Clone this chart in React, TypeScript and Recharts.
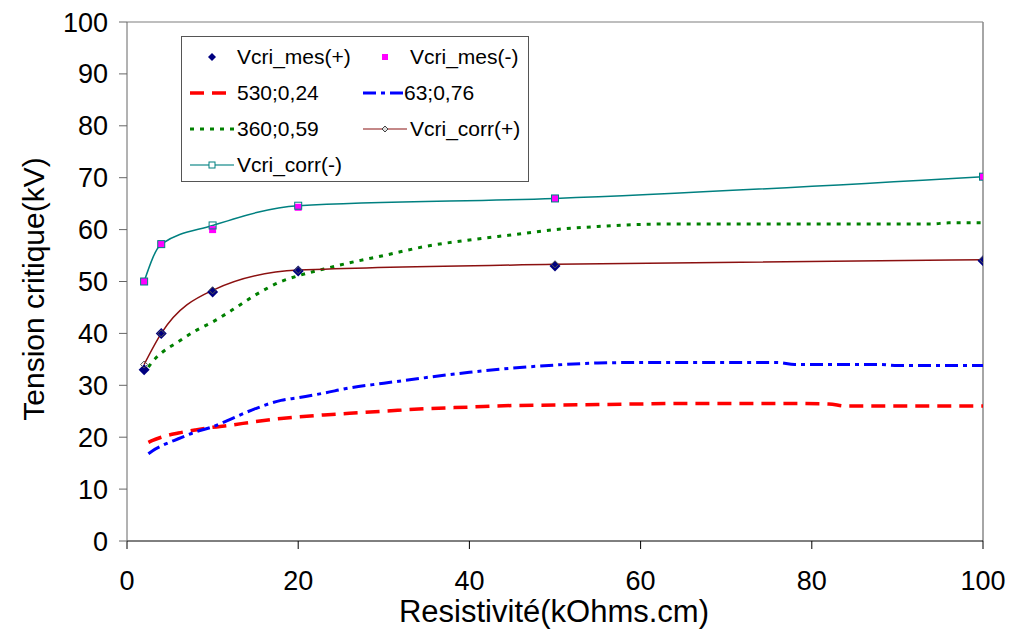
import {
  ComposedChart,
  Line,
  Scatter,
  XAxis,
  YAxis,
  Legend,
  ReferenceLine,
} from "recharts";

// measured resistivity points (kOhms.cm)
const xMes = [2, 4, 10, 20, 50, 100];
const mesPlus = [33, 40, 48, 52, 53, 54];
const mesMinus = [50, 57.2, 60, 64.3, 66, 70.2];
const corrPlus = [34, 40, 48.3, 52.2, 53.3, 54.2];
const corrMinus = [50, 57.2, 60.8, 64.6, 66, 70.2];

// model curves
const xModel = [2.5, 3, 4, 6, 8, 10, 12, 15, 18, 20, 23, 26, 30, 35, 40, 45, 50, 55, 60, 65, 70, 76, 78, 82, 84, 88, 90, 94, 96, 100];
const model530 = [19.0, 19.4, 20.0, 20.8, 21.4, 21.9, 22.3, 23.0, 23.6, 23.9, 24.3, 24.6, 25.0, 25.5, 25.8, 26.1, 26.2, 26.3, 26.4, 26.5, 26.5, 26.5, 26.5, 26.4, 26.0, 26.0, 26.0, 26.0, 26.0, 26.0];
const model63 = [16.8, 17.4, 18.3, 19.7, 21.0, 22.0, 23.4, 25.5, 27.1, 27.6, 28.5, 29.5, 30.4, 31.5, 32.5, 33.3, 33.9, 34.3, 34.4, 34.4, 34.4, 34.4, 34.0, 34.0, 34.0, 34.0, 33.8, 33.8, 33.8, 33.8];
const model360 = [33.5, 34.6, 36.2, 38.4, 40.5, 42.2, 44.2, 47.4, 50.0, 51.1, 52.4, 53.6, 55.0, 56.8, 58.0, 59.0, 60.0, 60.6, 61.0, 61.1, 61.1, 61.1, 61.1, 61.1, 61.1, 61.1, 61.1, 61.1, 61.3, 61.3];

const xTicks = [0, 20, 40, 60, 80, 100];
const yTicks = [0, 10, 20, 30, 40, 50, 60, 70, 80, 90, 100];

const toPoints = (xs: number[], ys: number[]) => xs.map((x, i) => ({ x, y: ys[i] }));

const FONT = "'Liberation Sans', Arial, sans-serif";

const Diamond = ({ cx, cy }: any) => (
  <path d={`M${cx},${cy - 5.5}L${cx + 5.5},${cy}L${cx},${cy + 5.5}L${cx - 5.5},${cy}Z`} fill="#000080" />
);
const Square = ({ cx, cy }: any) => (
  <rect x={cx - 3.5} y={cy - 3.5} width={7} height={7} fill="#FF00FF" />
);

const LegendBox = () => {
  const text = { position: "absolute" as const, fontFamily: FONT, fontSize: 21, color: "#000", lineHeight: "22px" };
  const sym = (left: number, top: number, el: any) => (
    <svg style={{ position: "absolute", left, top: top - 8 }} width={44} height={16}>{el}</svg>
  );
  return (
    <div style={{ width: 346, height: 144, border: "1px solid #555", background: "#fff", position: "relative" }}>
      {sym(8, 20, <path d="M22,4L26,8L22,12L18,8Z" fill="#000080" />)}
      <div style={{ ...text, left: 55, top: 9 }}>Vcri_mes(+)</div>
      {sym(181, 20, <rect x={19} y={5} width={6} height={6} fill="#FF00FF" />)}
      <div style={{ ...text, left: 228, top: 9 }}>Vcri_mes(-)</div>

      {sym(8, 56, <line x1={0} y1={8} x2={42} y2={8} stroke="#FF0000" strokeWidth={3.5} strokeDasharray="14 8" />)}
      <div style={{ ...text, left: 55, top: 45 }}>530;0,24</div>
      {sym(181, 56, <line x1={0} y1={8} x2={42} y2={8} stroke="#0000FF" strokeWidth={3} strokeDasharray="13 5 4 5" />)}
      <div style={{ ...text, left: 222, top: 45 }}>63;0,76</div>

      {sym(8, 92, <line x1={0} y1={8} x2={44} y2={8} stroke="#008000" strokeWidth={3} strokeDasharray="4 6" />)}
      <div style={{ ...text, left: 55, top: 81 }}>360;0,59</div>
      {sym(181, 92, <g><line x1={0} y1={8} x2={44} y2={8} stroke="#B06060" strokeWidth={1.5} /><path d="M22,5L25,8L22,11L19,8Z" fill="#ddd" stroke="#444" /></g>)}
      <div style={{ ...text, left: 228, top: 81 }}>Vcri_corr(+)</div>

      {sym(8, 128, <g><line x1={0} y1={8} x2={44} y2={8} stroke="#40A0A0" strokeWidth={1.5} /><rect x={19} y={5} width={6} height={6} fill="#fff" stroke="#008080" /></g>)}
      <div style={{ ...text, left: 55, top: 117 }}>Vcri_corr(-)</div>
    </div>
  );
};

export default function App() {
  const mesPlusPts = toPoints(xMes, mesPlus);
  const mesMinusPts = toPoints(xMes, mesMinus);
  const corrPlusPts = toPoints(xMes, corrPlus);
  const corrMinusPts = toPoints(xMes, corrMinus);

  return (
    <div style={{ position: "absolute", left: 0, top: 0, background: "#fff" }}>
      <ComposedChart width={1013} height={632} margin={{ top: 22, right: 30, left: 0, bottom: 0 }}>
        <XAxis
          type="number"
          dataKey="x"
          domain={[0, 100]}
          ticks={xTicks}
          allowDataOverflow
          height={91}
          stroke="#000"
          tickSize={8}
          tickMargin={22}
          tick={{ fill: "#000", fontSize: 27, fontFamily: FONT }}
          label={{
            content: () => (
              <text x={554} y={622} textAnchor="middle" fontSize={31} fontFamily={FONT} fill="#000">
                Resistivité(kOhms.cm)
              </text>
            ),
          }}
        />
        <YAxis
          type="number"
          dataKey="y"
          domain={[0, 100]}
          ticks={yTicks}
          width={127}
          stroke="#666"
          tickSize={8}
          tickMargin={11}
          tick={{ fill: "#000", fontSize: 27, fontFamily: FONT }}
          label={{
            content: () => (
              <text
                x={33}
                y={289}
                transform="rotate(-90 33 289)"
                textAnchor="middle"
                dominantBaseline="central"
                fontSize={30}
                fontFamily={FONT}
                fill="#000"
              >
                Tension critique(kV)
              </text>
            ),
          }}
        />
        <ReferenceLine y={100} stroke="#a8a8a8" strokeWidth={1.5} />
        <ReferenceLine x={100} stroke="#888" strokeWidth={1.5} />

        <Scatter name="Vcri_mes(+)" data={mesPlusPts} dataKey="y" shape={Diamond} isAnimationActive={false} />
        <Scatter name="Vcri_mes(-)" data={mesMinusPts} dataKey="y" shape={Square} isAnimationActive={false} />

        <Line
          name="530;0,24"
          data={toPoints(xModel, model530)}
          dataKey="y"
          type="monotone"
          stroke="#FF0000"
          strokeWidth={3.5}
          strokeDasharray="14 8"
          dot={false}
          activeDot={false}
          isAnimationActive={false}
        />
        <Line
          name="63;0,76"
          data={toPoints(xModel, model63)}
          dataKey="y"
          type="monotone"
          stroke="#0000FF"
          strokeWidth={3}
          strokeDasharray="13 5 4 5"
          dot={false}
          activeDot={false}
          isAnimationActive={false}
        />
        <Line
          name="360;0,59"
          data={toPoints(xModel, model360)}
          dataKey="y"
          type="monotone"
          stroke="#008000"
          strokeWidth={3}
          strokeDasharray="4 6"
          dot={false}
          activeDot={false}
          isAnimationActive={false}
        />
        <Line
          name="Vcri_corr(+)"
          data={corrPlusPts}
          dataKey="y"
          type="monotone"
          stroke="#8B1010"
          strokeWidth={1.5}
          dot={(p: any) => (
            <path
              key={`cp${p.index}`}
              d={`M${p.cx},${p.cy - 3.5}L${p.cx + 3.5},${p.cy}L${p.cx},${p.cy + 3.5}L${p.cx - 3.5},${p.cy}Z`}
              fill="none"
              stroke="#555"
              strokeWidth={1}
            />
          )}
          activeDot={false}
          isAnimationActive={false}
        />
        <Line
          name="Vcri_corr(-)"
          data={corrMinusPts}
          dataKey="y"
          type="monotone"
          stroke="#008080"
          strokeWidth={1.5}
          dot={(p: any) => (
            <rect key={`cm${p.index}`} x={p.cx - 3.5} y={p.cy - 3.5} width={7} height={7} fill="none" stroke="#008080" strokeWidth={1} />
          )}
          activeDot={false}
          isAnimationActive={false}
        />

        <Legend
          layout="vertical"
          align="center"
          verticalAlign="middle"
          content={() => <LegendBox />}
          wrapperStyle={{ left: 181, top: 36, width: 348, height: 146 }}
        />
      </ComposedChart>
    </div>
  );
}
